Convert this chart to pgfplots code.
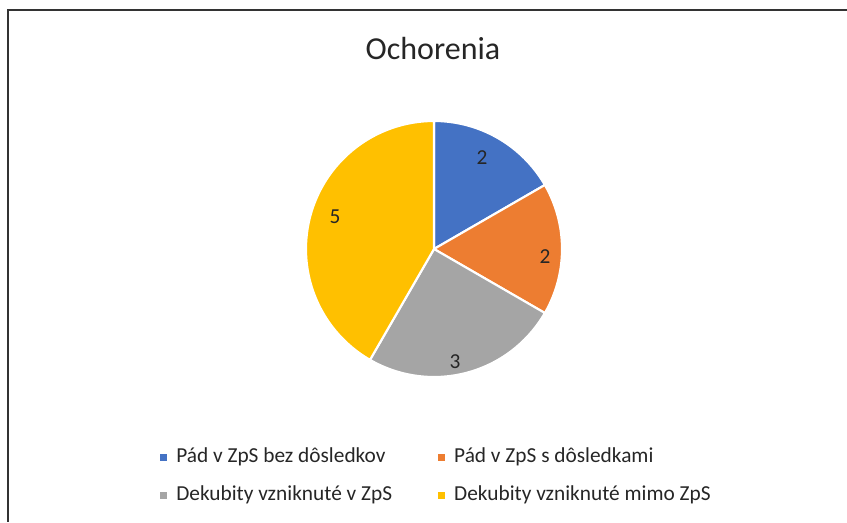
\documentclass[border=0pt]{standalone}
\usepackage{pgfplots}
\pgfplotsset{compat=1.18}
\usepackage{pgfplotstable}
\usepackage{fontspec}
\setmainfont{Carlito}
\definecolor{pblue}{HTML}{4472C4}
\definecolor{porange}{HTML}{ED7D31}
\definecolor{pgray}{HTML}{A5A5A5}
\definecolor{pyellow}{HTML}{FFC000}
\definecolor{txt}{HTML}{262626}
\pgfplotstableread{
label value
A 2
B 2
C 3
D 5
}\piedata
\begin{document}
\begin{tikzpicture}
\useasboundingbox (0,0) rectangle (635.25pt,391.5pt);
\pgfplotstablegetelem{0}{value}\of\piedata \let\va\pgfplotsretval
\pgfplotstablegetelem{1}{value}\of\piedata \let\vb\pgfplotsretval
\pgfplotstablegetelem{2}{value}\of\piedata \let\vc\pgfplotsretval
\pgfplotstablegetelem{3}{value}\of\piedata \let\vd\pgfplotsretval
\pgfmathsetmacro\tot{\va+\vb+\vc+\vd}
\pgfmathsetmacro\az{90}
\pgfmathsetmacro\aa{\az-360*\va/\tot}
\pgfmathsetmacro\ab{\aa-360*\vb/\tot}
\pgfmathsetmacro\ac{\ab-360*\vc/\tot}
\pgfmathsetmacro\ad{\ac-360*\vd/\tot}
\begin{axis}[
  at={(0,0)}, anchor=south west,
  width=635.25pt, height=391.5pt, scale only axis,
  xmin=0, xmax=847, ymin=0, ymax=522,
  hide axis, clip=false,
  legend columns=2,
  legend style={at={(axis cs:158,74)}, anchor=north west, draw=none, fill=none,
    font=\fontsize{16}{18}\selectfont, text=txt,
    /tikz/every even column/.append style={column sep=33pt},
    row sep=14.5pt, inner sep=0pt,
    nodes={inner sep=0pt, anchor=west, text height=11pt, text depth=3pt}},
  legend image code/.code={\fill[#1] (0pt,-3.1pt) rectangle (6.4pt,3.3pt);},
]
\def\cx{434}\def\cy{273}\def\r{128}
\addplot[fill=pblue, draw=white, line width=1.6pt, line join=round, domain=\aa:\az, samples=60, variable=\t]
  ({\cx+\r*cos(\t)},{\cy+\r*sin(\t)}) -- (axis cs:\cx,\cy) -- cycle;
\addlegendentry{\hspace{5.5pt}Pád v ZpS bez dôsledkov}
\addplot[fill=porange, draw=white, line width=1.6pt, line join=round, domain=\ab:\aa, samples=60, variable=\t]
  ({\cx+\r*cos(\t)},{\cy+\r*sin(\t)}) -- (axis cs:\cx,\cy) -- cycle;
\addlegendentry{\hspace{5.5pt}Pád v ZpS s dôsledkami}
\addplot[fill=pgray, draw=white, line width=1.6pt, line join=round, domain=\ac:\ab, samples=80, variable=\t]
  ({\cx+\r*cos(\t)},{\cy+\r*sin(\t)}) -- (axis cs:\cx,\cy) -- cycle;
\addlegendentry{\hspace{5.5pt}Dekubity vzniknuté v ZpS}
\addplot[fill=pyellow, draw=white, line width=1.6pt, line join=round, domain=\ad:\ac, samples=120, variable=\t]
  ({\cx+\r*cos(\t)},{\cy+\r*sin(\t)}) -- (axis cs:\cx,\cy) -- cycle;
\addlegendentry{\hspace{5.5pt}Dekubity vzniknuté mimo ZpS}
% data labels
\node[text=txt, font=\fontsize{16}{18}\selectfont] at (axis cs:482,364) {\va};
\node[text=txt, font=\fontsize{16}{18}\selectfont] at (axis cs:545,265) {\vb};
\node[text=txt, font=\fontsize{16}{18}\selectfont] at (axis cs:455,160) {\vc};
\node[text=txt, font=\fontsize{16}{18}\selectfont] at (axis cs:335,305) {\vd};
% title
\node[text=txt, font=\fontsize{24}{28}\selectfont] at (axis cs:433,473) {Ochorenia};
% frame
\draw[color=black!80, line width=1.5pt] (axis cs:847,512) -- (axis cs:8,512) -- (axis cs:8,0);
\end{axis}
\end{tikzpicture}
\end{document}
